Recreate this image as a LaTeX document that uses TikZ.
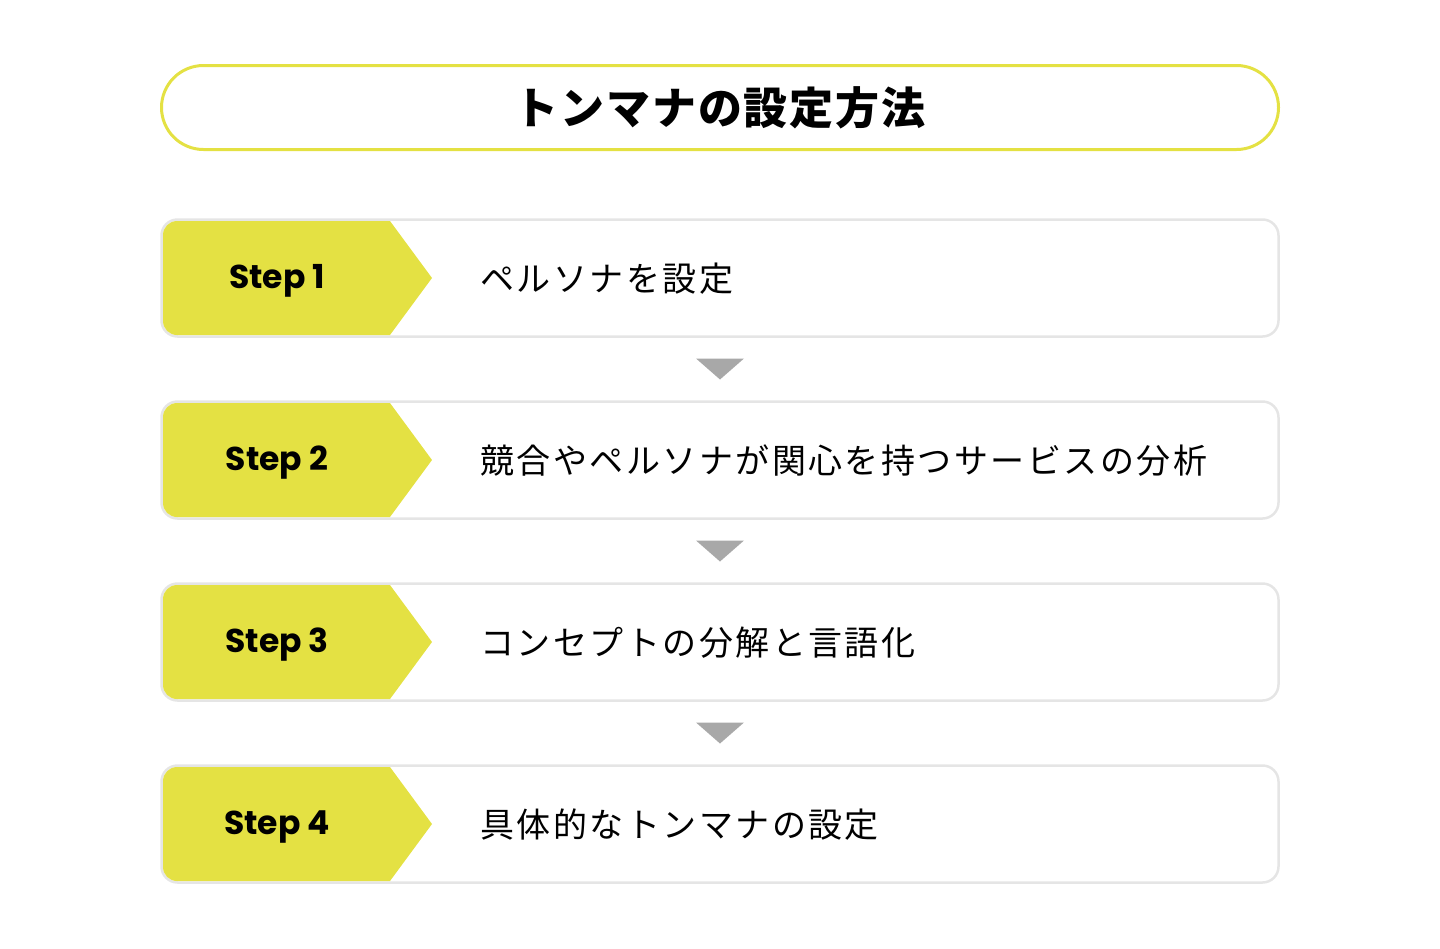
\documentclass[tikz,border=0pt]{standalone}
\usepackage{fontspec}
\usepackage{tikz}
\usetikzlibrary{calc}
\newfontfamily\jpfont{Noto Sans CJK JP}
\newfontfamily\jptitlefont[LetterSpace=4.5]{Noto Sans CJK JP}
\newfontfamily\jpdescfont[LetterSpace=7.3]{Noto Sans CJK JP}
\newfontfamily\stepfont{Poppins}
\definecolor{tagyellow}{RGB}{228,225,67}
\definecolor{boxgray}{RGB}{229,229,229}
\definecolor{arrowgray}{RGB}{168,168,168}
\tikzset{
  titlebox/.style={draw=tagyellow, line width=3pt, rounded corners=42pt, minimum width=1117pt, minimum height=84pt, inner sep=0pt, font=\jptitlefont\bfseries\fontsize{44}{50}\selectfont},
  stepbox/.style={draw=boxgray, line width=2.5pt, rounded corners=16pt, minimum width=1117pt, minimum height=117pt, inner sep=0pt},
  steplabel/.style={inner sep=0pt, font=\stepfont\bfseries\fontsize{33}{38}\selectfont},
  desc/.style={anchor=west, inner sep=0pt, font=\jpdescfont\fontsize{34}{40}\selectfont},
}
\begin{document}
\begin{tikzpicture}[x=1pt,y=1pt,yscale=-1,xscale=1]
\useasboundingbox (0,0) rectangle (1440,948);

% title
\node[titlebox] (title) at (720,107.5) {トンマナの設定方法};

% steps
\foreach \i/\txt in {1/ペルソナを設定, 2/競合やペルソナが関心を持つサービスの分析, 3/コンセプトの分解と言語化, 4/具体的なトンマナの設定} {
  \pgfmathsetmacro\yc{278+182*(\i-1)}
  \node[stepbox] (box\i) at (720,\yc) {};
  \fill[tagyellow] (390,\yc-57) [rounded corners=14pt]-- (163,\yc-57) -- (163,\yc+57) [sharp corners]-- (390,\yc+57) -- (432,\yc) -- cycle;
  \node[steplabel] (tag\i) at (277,\yc+2.5) {Step \i};
  \node[desc] (desc\i) at (480,\yc+1) {\txt};
}

% arrows
\foreach \i/\j in {1/2, 2/3, 3/4} {
  \coordinate (mid\i) at ($(box\i.south)!0.5!(box\j.north)$);
  \fill[arrowgray] ($(mid\i)+(-24,-10.5)$) -- ($(mid\i)+(24,-10.5)$) -- ($(mid\i)+(0,10.5)$) -- cycle;
}
\end{tikzpicture}
\end{document}
